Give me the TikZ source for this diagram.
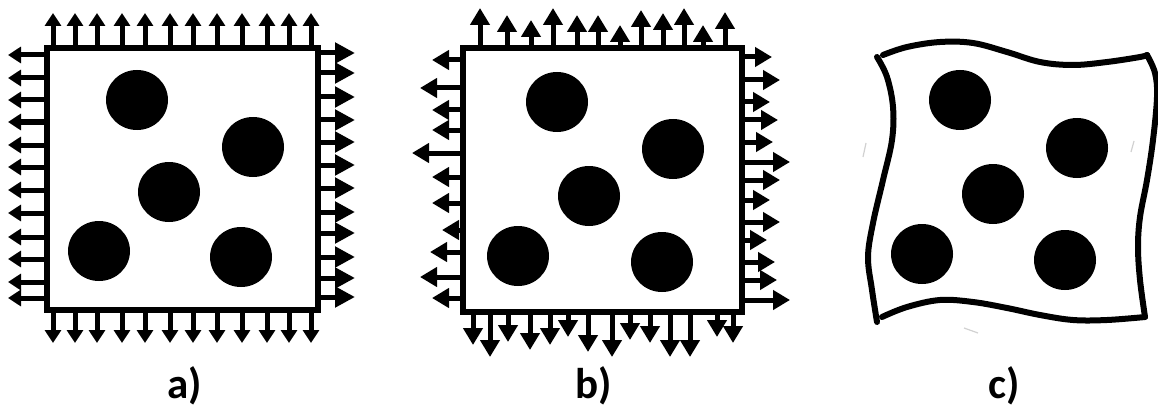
\documentclass[tikz,border=0pt]{standalone}
\usepackage{fontspec}
\setmainfont{Carlito}
\usetikzlibrary{arrows.meta}
\begin{document}
\begin{tikzpicture}[x=1pt,y=-1pt,
  sq/.style={line width=6.5pt},
  dot/.style={fill=black},
  arrA/.style={line width=5pt,-{Triangle[length=13pt,width=16pt]}},
  arrAR/.style={line width=5pt,-{Triangle[length=20pt,width=20pt]}},
  arrB/.style={line width=5pt,-{Triangle[length=17pt,width=19pt]}},
  wavy/.style={line width=6pt,line cap=round,line join=round},
  faint/.style={black!18,line width=1.2pt},
  lbl/.style={font=\fontsize{43}{43}\selectfont\bfseries,anchor=base}]
\useasboundingbox (0,0) rectangle (1158,409);

% ---------- panel a ----------
\foreach \x in {53,75,97,122,145,170,193,217,242,267,289,311}{
  \draw[arrA] (\x,48) -- (\x,13);
  \draw[arrA] (\x,310) -- (\x,343);
}
\foreach \y in {55,78,100,122,145,167,190,213,237,259,282,298}
  \draw[arrA] (47,\y) -- (8,\y);
\foreach \y in {53,73,97,120,142,165,188,212,233,257,278,297}
  \draw[arrAR] (318,\y) -- (355,\y);
\draw[sq] (47,48) rectangle (318,310);
\foreach \cx/\cy in {137/100,253/147,169/192,99/251,241/257}
  \fill[dot] (\cx,\cy) ellipse [x radius=31pt,y radius=30pt];

% ---------- panel b ----------
\foreach \x/\t in {480/8,507/15,531/20,553/8,577/15,598/15,620/25,641/10,663/13,684/8,703/25,725/12}
  \draw[arrB] (\x,48) -- (\x,\t);
\foreach \x/\t in {473/345,490/357,508/342,530/350,550/345,568/337,588/352,612/357,630/340,650/343,670/357,690/357,717/337,733/343}
  \draw[arrB] (\x,312) -- (\x,\t);
\foreach \y/\t in {60/432,88/420,110/432,130/432,153/412,177/432,203/432,230/442,252/430,277/420,298/432}
  \draw[arrB] (463,\y) -- (\t,\y);
\foreach \y/\t in {57/772,80/780,102/770,120/778,142/773,162/790,180/780,200/770,222/780,240/767,262/775,280/777,300/790}
  \draw[arrB] (742,\y) -- (\t,\y);
\draw[sq] (463,48) rectangle (742,312);
\foreach \cx/\cy in {557/102,673/149,589/196,518/256,662/262}
  \fill[dot] (\cx,\cy) ellipse [x radius=31pt,y radius=30pt];

% ---------- panel c ----------
\draw[wavy] plot[smooth,tension=0.6] coordinates {(883,55) (907,47) (940,42) (973,43) (1007,52) (1040,62) (1073,65) (1107,62) (1140,57) (1147,55)};
\draw[wavy] plot[smooth,tension=0.6] coordinates {(1147,55) (1155,73) (1157,97) (1153,140) (1147,180) (1140,217) (1138,247) (1140,280) (1145,317)};
\draw[wavy] plot[smooth,tension=0.6] coordinates {(882,317) (907,307) (940,300) (973,302) (1007,308) (1040,315) (1073,320) (1107,320) (1145,317)};
\draw[wavy] plot[smooth,tension=0.6] coordinates {(877,57) (887,77) (893,107) (892,140) (883,180) (873,223) (868,257) (872,290) (877,322)};
\foreach \cx/\cy in {960/100,1077/148,993/194,922/254,1065/260}
  \fill[dot] (\cx,\cy) ellipse [x radius=31pt,y radius=30pt];
\draw[faint] (866,143) -- (863,157);
\draw[faint] (1134,141) -- (1131,152);
\draw[faint] (964,328) -- (978,333);

% ---------- labels ----------
\node[lbl] (la) at (185,398) {a)};
\node[lbl] (lb) at (594,398) {b)};
\node[lbl] (lc) at (1004,398) {c)};
\end{tikzpicture}
\end{document}
